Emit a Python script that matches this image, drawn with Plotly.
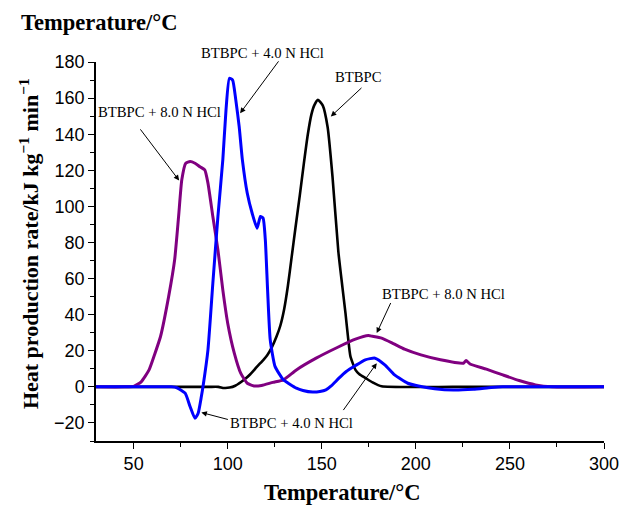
import plotly.graph_objects as go

# BTBPC (black)
t_black = [30, 60, 90, 95, 98, 101, 104, 108.7, 112, 115.6, 119, 121, 123.5, 126, 128, 130, 132, 134,
           136, 138.3, 140.5, 142.6, 144.5, 146, 148, 150.5, 153.1, 155.7, 158.8, 161, 162.6, 164,
           165.2, 167.9, 170, 173.1, 177, 181.8, 220, 260, 300]
y_black = [0, 0, 0, 0, -0.6, -0.4, 0.6, 3.9, 7, 11.2, 15, 17.5, 22, 28, 34, 43, 56, 72,
           88, 106, 124, 140, 151, 156, 159, 156, 144, 116.5, 75, 55, 40.8, 27,
           17, 9.4, 7, 5, 2.5, 0.3, 0, 0, 0]

# BTBPC + 4.0 N HCl (blue)
t_blue = [30, 60, 70, 73, 77.4, 80, 82.6, 84.3, 86, 87, 89.5, 92.1, 94.8, 97.4, 99.1, 100.9, 102.6,
          104.3, 106.1, 107.8, 110.4, 113, 115.6, 117.4, 118.8, 120, 121.2, 122.6, 125.2, 129.6,
          133, 136.5, 140, 145.2, 149, 152.2, 155, 159.1, 163, 167.9, 173.1, 178.3, 183.5, 188.7,
          195.7, 202.7, 210, 220, 230.5, 240, 246.2, 270, 300]
y_blue = [0, 0, 0, -0.5, -3.5, -10.9, -17.4, -14.6, -5.4, 1, 20.5, 57.4, 94.4, 125.8, 153.5, 171, 170,
          159, 144.2, 125.8, 107.3, 96.2, 87.9, 94.4, 93.5, 81.4, 53.7, 26, 11.2, 3.9,
          1.5, -0.7, -2, -2.9, -2.6, -1.7, 0.5, 4.8, 8.5, 11.8, 15, 15.9, 12.2, 6.6,
          2, 0.2, -1, -1.7, -1.3, -0.4, 0, 0, 0]

# BTBPC + 8.0 N HCl (purple)
t_purple = [30, 45, 50, 54, 58.2, 61, 64.3, 68.6, 71.8, 73.9, 75.6, 77.7, 80, 82.6, 85.2, 87.8, 89.5,
            92.1, 94.8, 97.4, 100, 103.5, 106.9, 110.4, 114, 118, 124, 129.6, 136.5, 147, 157.4,
            167.9, 174.8, 177, 181.8, 188, 194, 202.7, 213.1, 225.3, 226.7, 228.8, 237.5, 246.2,
            254.9, 263.6, 272.3, 300]
y_purple = [0, 0, 0.3, 2.8, 9.4, 17.5, 27.9, 50, 70.4, 94.4, 114.7, 123.9, 124.8, 123.9, 122, 120.2, 112.9,
            94.4, 75.9, 53.7, 35.3, 18.7, 7.6, 2, 0.5, 0.8, 2.5, 3.9, 9.4, 15.9, 21.4,
            26.4, 28.4, 28, 27, 24, 20.9, 17.7, 15, 13.1, 14.6, 12.7, 9.8, 6.6,
            3.5, 1.1, 0, 0]

x_ticks = [50, 100, 150, 200, 250, 300]
y_ticks = [-20, 0, 20, 40, 60, 80, 100, 120, 140, 160, 180]

# label texts, positions (data coords) and arrows (tail -> tip)
labels = ["BTBPC + 4.0 N HCl", "BTBPC + 8.0 N HCl", "BTBPC", "BTBPC + 8.0 N HCl", "BTBPC + 4.0 N HCl"]
label_x = [118.3, 63.9, 169.4, 214.6, 133.9]
label_y = [190.5, 152.4, 171.7, 51.5, -19.9]
arrow_tail_x = [127.6, 53.0, 171.9, 187.0, 100.9, 160.9]
arrow_tail_y = [181.2, 143.5, 166.4, 47.3, -18.3, -13.7]
arrow_tip_x = [106.6, 74.2, 154.8, 179.2, 86.0, 179.2]
arrow_tip_y = [151.6, 114.3, 149.8, 29.8, -14.2, 13.1]

Y_MIN, Y_MAX = -30, 180

fig = go.Figure()
fig.add_trace(go.Scatter(x=t_black, y=y_black, mode="lines",
                         line=dict(color="black", width=2.6, shape="spline", smoothing=0.5)))
fig.add_trace(go.Scatter(x=t_purple, y=y_purple, mode="lines",
                         line=dict(color="#800080", width=3, shape="spline", smoothing=0.5)))
fig.add_trace(go.Scatter(x=t_blue, y=y_blue, mode="lines",
                         line=dict(color="#0000FF", width=3, shape="spline", smoothing=0.5)))

ann = []
label_font = dict(family="Liberation Serif", size=14.7, color="black")
for txt, x, y in zip(labels, label_x, label_y):
    if y > Y_MAX:
        # above the axis range: place with paper y so it is not hidden
        ann.append(dict(x=x, y=(y - Y_MIN) / (Y_MAX - Y_MIN), xref="x", yref="paper", text=txt,
                        showarrow=False, font=label_font))
    else:
        ann.append(dict(x=x, y=y, xref="x", yref="y", text=txt, showarrow=False, font=label_font))
for tx, ty, hx, hy in zip(arrow_tail_x, arrow_tail_y, arrow_tip_x, arrow_tip_y):
    ann.append(dict(x=hx, y=hy, ax=tx, ay=ty, xref="x", yref="y", axref="x", ayref="y",
                    text="", showarrow=True, arrowhead=2, arrowsize=1.1, arrowwidth=1,
                    arrowcolor="black", standoff=0, startstandoff=0))
title_font = dict(family="Liberation Serif", size=22.5, color="black")
ann.append(dict(x=-0.152, y=1.103, xref="paper", yref="paper", xanchor="left", yanchor="middle",
                text="<b>Temperature/°C</b>", showarrow=False, font=title_font))
ann.append(dict(x=0.484, y=-0.137, xref="paper", yref="paper", xanchor="center", yanchor="middle",
                text="<b>Temperature/°C</b>", showarrow=False, font=title_font))
ann.append(dict(x=-0.132, y=0.522, xref="paper", yref="paper", xanchor="center", yanchor="middle",
                text="<b>Heat production rate/kJ kg<sup>−1</sup> min<sup>−1</sup></b>", textangle=-90,
                showarrow=False, font=dict(family="Liberation Serif", size=22, color="black")))

fig.update_layout(
    width=631, height=505,
    margin=dict(l=96, r=18, t=62, b=64),
    plot_bgcolor="white", paper_bgcolor="white",
    showlegend=False,
    annotations=ann,
    font=dict(family="Liberation Sans", size=18, color="black"),
)
fig.update_xaxes(range=[30, 300], tickvals=x_ticks, ticks="outside", ticklen=6, tickwidth=1.3,
                 tickcolor="black", showline=True, linecolor="black", linewidth=1.5,
                 showgrid=False, zeroline=False,
                 minor=dict(dtick=25, tick0=25, ticks="outside", ticklen=4, tickwidth=1.3, tickcolor="black"))
fig.update_yaxes(range=[Y_MIN, Y_MAX], tickvals=y_ticks, ticktext=[str(v).replace("-", "−") for v in y_ticks],
                 ticks="outside", ticklen=6, tickwidth=1.3,
                 tickcolor="black", showline=True, linecolor="black", linewidth=1.5,
                 showgrid=False, zeroline=False,
                 minor=dict(dtick=10, tick0=10, ticks="outside", ticklen=4, tickwidth=1.3, tickcolor="black"))

fig.write_html("out.html")
